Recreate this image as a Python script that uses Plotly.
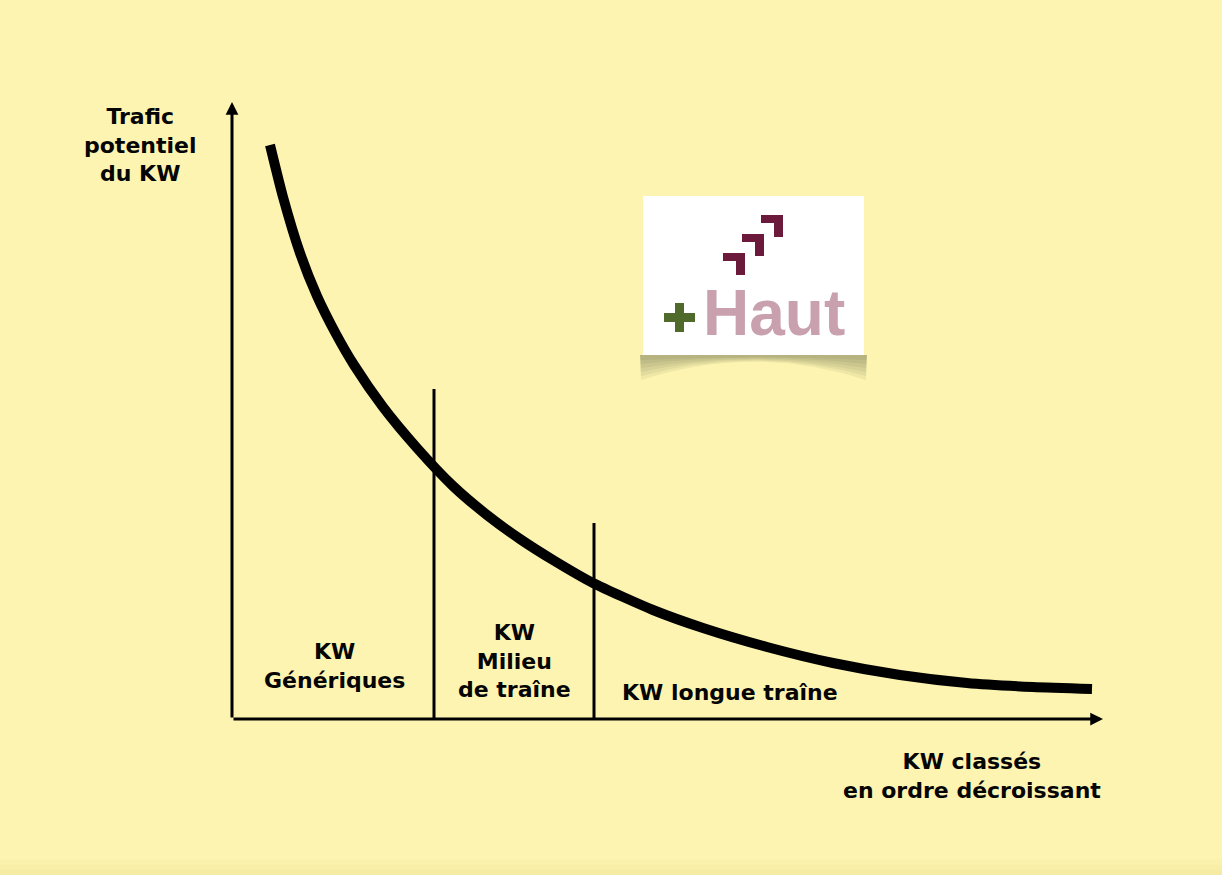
import plotly.graph_objects as go

# ---- data (chart units: x = keyword rank, y = potential traffic) ----
rank = [38, 51, 68, 85, 104, 122, 151, 185, 221, 255, 288, 321, 361, 421, 471, 535, 601, 668, 735, 801, 860]
traffic = [574, 522, 466, 423, 385, 354, 312, 271, 233, 204, 180, 159, 136, 109, 91, 72, 56, 44, 36, 32, 30]

divider_x = [202, 362]
divider_top = [330, 196]

x_axis_end = 871
y_axis_end = 617

segment_labels = ["KW<br>Génériques", "KW<br>Milieu<br>de traîne", "KW longue traîne"]
segment_label_x = [102, 282, 498]
segment_label_y = [53, 58, 27]

y_title = "Trafic<br>potentiel<br>du KW"
x_title = "KW classés<br>en ordre décroissant"

BG = "#FCF4B0"
FONT = dict(family="DejaVu Sans, Verdana, sans-serif", size=22, color="#050505", weight="bold")

fig = go.Figure()

# curve
fig.add_trace(go.Scatter(
    x=rank, y=traffic, mode="lines",
    line=dict(color="black", width=10, shape="spline", smoothing=0.6),
    hoverinfo="skip", showlegend=False))

shapes = []
# dividers
for dx, dt in zip(divider_x, divider_top):
    shapes.append(dict(type="line", xref="x", yref="y", x0=dx, x1=dx, y0=0, y1=dt,
                       line=dict(color="black", width=3)))

# logo (decoration), in chart units
lx0, lx1, ly0, ly1 = 411, 632, 364, 523
# soft shadow below logo box: thicker at the corners, thinner in the middle
for depth in [25, 21, 17, 13, 9, 5]:
    path = (f"M {lx0-3},{ly0} L {lx1+3},{ly0} L {lx1+2},{ly0-depth} "
            f"Q {(lx0+lx1)/2},{ly0 - 2 + depth*0.55} {lx0-2},{ly0-depth} Z")
    shapes.append(dict(type="path", xref="x", yref="y", path=path,
                       fillcolor="rgba(95,90,65,0.085)", line=dict(width=0), layer="below"))
shapes.append(dict(type="rect", xref="x", yref="y", x0=lx0, x1=lx1, y0=ly0, y1=ly1,
                   fillcolor="white", line=dict(width=0), layer="below"))

# chevrons: (left x, top y) of each
maroon = "#6C1A3C"
chev_left = [491, 510, 529]
chev_top = [466, 485, 504]
for cx, cy in zip(chev_left, chev_top):
    shapes.append(dict(type="rect", xref="x", yref="y", x0=cx, x1=cx+22, y0=cy-8, y1=cy,
                       fillcolor=maroon, line=dict(width=0)))
    shapes.append(dict(type="rect", xref="x", yref="y", x0=cx+13, x1=cx+22, y0=cy-22, y1=cy,
                       fillcolor=maroon, line=dict(width=0)))
# green plus
green = "#4F6A2B"
shapes.append(dict(type="rect", xref="x", yref="y", x0=432, x1=463, y0=397, y1=406,
                   fillcolor=green, line=dict(width=0)))
shapes.append(dict(type="rect", xref="x", yref="y", x0=443, x1=452, y0=387, y1=416,
                   fillcolor=green, line=dict(width=0)))

# faint darker gradient at bottom of image
for h in [0.018, 0.012, 0.006]:
    shapes.append(dict(type="rect", xref="paper", yref="paper", x0=0, x1=1, y0=0, y1=h,
                       fillcolor="rgba(210,190,90,0.05)", line=dict(width=0), layer="below"))

annotations = []
# axes with arrows
annotations.append(dict(x=x_axis_end, y=0, ax=0, ay=0, xref="x", yref="y", axref="x", ayref="y",
                        text="", showarrow=True, arrowhead=2, arrowsize=0.85, arrowwidth=3,
                        arrowcolor="black"))
annotations.append(dict(x=0, y=y_axis_end, ax=0, ay=0, xref="x", yref="y", axref="x", ayref="y",
                        text="", showarrow=True, arrowhead=2, arrowsize=0.85, arrowwidth=3,
                        arrowcolor="black"))
for t, xx, yy in zip(segment_labels, segment_label_x, segment_label_y):
    annotations.append(dict(x=xx, y=yy, xref="x", yref="y", text=t, showarrow=False,
                            font=FONT, xanchor="center", yanchor="middle", align="center"))
annotations.append(dict(x=-92, y=574, xref="x", yref="y", text=y_title, showarrow=False,
                        font=FONT, xanchor="center", yanchor="middle", align="center"))
annotations.append(dict(x=740, y=-57, xref="x", yref="y", text=x_title, showarrow=False,
                        font=FONT, xanchor="center", yanchor="middle", align="center"))
# logo word
annotations.append(dict(x=542, y=406, xref="x", yref="y", text="Haut", showarrow=False,
                        font=dict(family="Liberation Sans, Arial, sans-serif", size=64,
                                  color="#C8A0AE", weight="bold"),
                        xanchor="center", yanchor="middle"))

fig.update_layout(
    width=1222, height=875,
    margin=dict(l=0, r=0, t=0, b=0),
    paper_bgcolor=BG, plot_bgcolor=BG,
    xaxis=dict(range=[-232, 990], visible=False, fixedrange=True),
    yaxis=dict(range=[-156, 719], visible=False, fixedrange=True),
    shapes=shapes, annotations=annotations, showlegend=False,
)

fig.write_html(
    "out.html",
    config={"displayModeBar": False},
    post_script=(
        "document.body.style.margin='0';"
        "document.body.style.padding='0';"
        "document.body.style.overflow='hidden';"
        f"document.body.style.background='{BG}';"
    ),
)
